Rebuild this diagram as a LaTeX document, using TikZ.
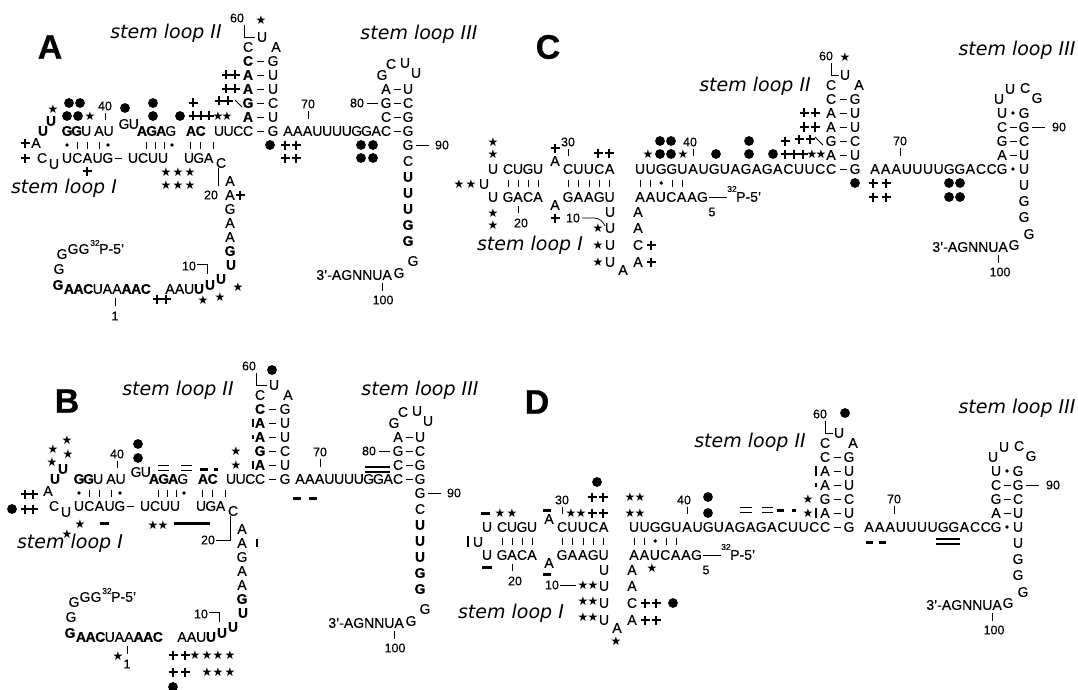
\documentclass[tikz,border=0pt]{standalone}
\usepackage{fontspec}
\setmainfont{Liberation Sans}[FakeBold=0.35,BoldFeatures={FakeBold=0.5}]
\newfontfamily\numf{Liberation Sans}[FakeBold=0.25]
\newfontfamily\symf{DejaVu Sans}
\newfontfamily\lblf{DejaVu Sans}
\tikzset{
 nt/.style={inner sep=0pt, font=\fontsize{14}{14}\selectfont},
 num/.style={inner sep=0pt, font=\numf\fontsize{12.5}{13}\selectfont},
 sup/.style={inner sep=0pt, font=\numf\fontsize{8.5}{9}\selectfont},
 starn/.style={inner sep=0pt, font=\symf\fontsize{12}{12}\selectfont},
 lbl/.style={inner sep=0pt, font=\lblf\itshape\fontsize{19}{21}\selectfont},
 panel/.style={inner sep=0pt, font=\bfseries\fontsize{34}{34}\selectfont},
 tk/.style={line width=0.6pt},
 ln/.style={line width=0.75pt},
}
\newcommand\Nt[3]{\node[nt] at (#1,#2) {#3};}
\newcommand\Nm[3]{\node[num] at (#1,#2) {#3};}
\newcommand\Seq[4]{\foreach \cc [count=\ii from 0] in {#4} {\node[nt] at ({#1+\ii*#3},#2) {\cc};}}
\newcommand\Pair[5]{\node[nt] at (#1,#3) {#4};\node[nt] at (#2,#3) {#5};\draw[ln] ({(#1+#2)/2-3.5},#3) -- ({(#1+#2)/2+3.5},#3);}
\newcommand\Wob[5]{\node[nt] at (#1,#3) {#4};\node[nt] at (#2,#3) {#5};\fill ({(#1+#2)/2},#3) circle (1.8pt);}
\newcommand\Tk[2]{\draw[tk] (#1,{#2-3.5}) -- (#1,{#2+3.5});}
\newcommand\Td[2]{\fill (#1,#2) circle (1.8pt);}
\newcommand\Md[2]{\fill (#1,#2) circle (4.9pt);}
\newcommand\Mp[2]{\draw[line width=2.8pt] ({#1-4.5},#2) -- ({#1+4.5},#2) (#1,{#2-4.5}) -- (#1,{#2+4.5});}
\newcommand\Ms[2]{\node[starn] at (#1,#2) {★};}
\newcommand\Mb[3]{\draw[line width=3pt] (#1,#3) -- (#2,#3);}
\newcommand\Mv[3]{\draw[line width=2.5pt] (#1,#2) -- (#1,#3);}
\newcommand\Meq[3]{\draw[line width=1.5pt] (#1,{#3-2.3}) -- (#2,{#3-2.3}) (#1,{#3+2.3}) -- (#2,{#3+2.3});}

\newcommand\StructAB{%
 \Nt{36}{143}{A}\Nt{42}{158}{C}\Nt{54}{164}{U}
 \Nt{43}{131}{\textbf{U}}\Nt{51}{121}{\textbf{U}}
 \Seq{67}{131}{9.6}{\textbf{G},\textbf{G},U}
 \Seq{99}{131}{9.6}{A,U}
 \Seq{124}{124}{9.8}{G,U}
 \Seq{142}{131}{9.6}{\textbf{A},\textbf{G},\textbf{A},G}
 \Seq{191}{131}{9.6}{\textbf{A},\textbf{C}}
 \Seq{219}{131}{9.6}{U,U,C}
 \Pair{248}{273}{131}{C}{G}
 \Seq{288}{131}{9.8}{A,A,A,U,U,U,U,G,G,A}
 \Pair{386}{408}{131}{C}{G}
 \Seq{67}{158}{10.2}{U,C,A,U,G}
 \draw[ln] (115,158) -- (122,158);
 \Seq{133}{158}{10}{U,C,U,U}
 \Seq{189}{158}{9.8}{U,G,A}
 \Nt{221}{163}{C}
 \Td{67}{145}\Tk{77}{145}\Tk{87}{145}\Tk{99}{145}\Td{108}{145}
 \Tk{146}{145}\Tk{155}{145}\Tk{164}{145}\Td{172}{145}
 \Tk{190}{145}\Tk{200}{145}\Tk{213}{145}
 \Nm{105}{106}{40}\draw[ln] (105,113) -- (105,120);
 \Nm{308}{104}{70}\draw[ln] (308,111) -- (308,119);
 \Pair{248}{273}{117}{\textbf{A}}{U}
 \Pair{248}{273}{103}{\textbf{G}}{C}
 \Pair{248}{273}{89}{\textbf{A}}{U}
 \Pair{248}{273}{75}{\textbf{A}}{U}
 \Pair{248}{273}{61}{\textbf{C}}{G}
 \Nt{248}{47}{C}\Nt{262}{37}{U}\Nt{276}{47}{A}
 \Nm{237}{18}{60}\draw[ln] (244,25) -- (244,37) -- (255,37);
 \Pair{386}{408}{117}{C}{G}
 \Pair{386}{408}{103}{G}{C}
 \Pair{386}{408}{89}{A}{U}
 \Nt{382}{75}{G}\Nt{391}{64}{C}\Nt{405}{63}{U}\Nt{416}{73}{U}
 \Nm{357}{103}{80}\draw[ln] (367,103) -- (378,103);
 \Nt{408}{145}{G}\draw[ln] (416,145) -- (429,145);\Nm{442}{145}{90}
 \Nt{408}{161}{C}
 \Nt{408}{177}{\textbf{U}}\Nt{408}{193}{\textbf{U}}\Nt{408}{209}{\textbf{U}}
 \Nt{408}{225}{\textbf{G}}\Nt{408}{241}{\textbf{G}}
 \Nt{413}{261}{G}\Nt{399}{273}{G}
 \node[nt,anchor=east] at (392,275) {3'-AGNNUA};
 \draw[ln] (382,283) -- (382,291);\Nm{383}{300}{100}
 \Nt{230}{181}{A}\Nt{230}{195}{A}\Nt{230}{209}{G}\Nt{230}{223}{A}\Nt{230}{237}{A}
 \Nt{230}{251}{\textbf{G}}\Nt{231}{265}{\textbf{U}}
 \Nt{221}{279}{\textbf{U}}\Nt{210}{285}{\textbf{U}}\Nt{199}{289}{\textbf{U}}
 \Seq{170}{289}{9.6}{A,A,U}
 \Seq{69}{289}{9.6}{\textbf{A},\textbf{A},\textbf{C},U,A,A,\textbf{A},\textbf{A},\textbf{C}}
 \Nt{58}{285}{\textbf{G}}
 \Nt{59}{269}{G}\Nt{62}{254}{G}\Nt{73}{249}{G}\Nt{84}{249}{G}
 \node[sup] at (95,243) {32};
 \node[nt,anchor=west] at (99,249) {P-5'};
 \Nm{189}{266}{10}\draw[ln] (197,264) -- (207,264) -- (207,274);
 \draw[ln] (115,298) -- (115,306);\Nm{115}{316}{1}
}

\newcommand\StructCD{%
 \Nt{484}{184}{U}
 \Nt{493}{169}{U}\Seq{508}{169}{10}{C,U,G,U}
 \Nt{555}{161}{A}\Seq{568}{169}{10.4}{C,U,U,C,A}
 \Seq{640}{169}{10.6}{U,U,G,G,U,A,U,G,U,A,G,A,G,A,C,U,U,C}
 \Pair{831}{855}{169}{C}{G}
 \Seq{875}{169}{10.6}{A,A,A,U,U,U,U,G,G,A,C,C}
 \Wob{1002}{1024}{169}{G}{U}
 \Nt{493}{197}{U}\Seq{508}{197}{10}{G,A,C,A}
 \Nt{555}{205}{A}\Seq{568}{197}{10.4}{G,A,A,G,U}
 \Nt{610}{212}{U}\Nt{610}{228}{U}\Nt{610}{245}{U}\Nt{610}{262}{U}
 \Nt{623}{270}{A}
 \Nt{638}{262}{A}\Nt{638}{245}{C}\Nt{638}{228}{A}\Nt{638}{212}{A}
 \Seq{640}{197}{10.4}{A,A,U,C,A,A,G}
 \draw[ln] (709,197) -- (727,197);
 \node[sup] at (732,189) {32};
 \node[nt,anchor=west] at (736,197) {P-5'};
 \Nm{712}{212}{5}
 \foreach \x in {508,518,528,538,568,578.4,588.8,599.2,609.6,640,650.6,671.8,682.4} {\Tk{\x}{183}}
 \Td{661.2}{183}
 \draw[ln] (518,206) -- (518,213);\Nm{521}{223}{20}
 \Nm{568}{142}{30}\draw[ln] (568,149) -- (568,156);
 \Nm{690}{142}{40}\draw[ln] (693,149) -- (693,156);
 \Nm{900}{141}{70}\draw[ln] (900,148) -- (900,156);
 \Pair{831}{855}{155}{A}{U}
 \Pair{831}{855}{141}{G}{C}
 \Pair{831}{855}{127}{A}{U}
 \Pair{831}{855}{113}{A}{U}
 \Pair{831}{855}{99}{C}{G}
 \Nt{831}{85}{C}\Nt{845}{75}{U}\Nt{859}{85}{A}
 \Nm{826}{56}{60}\draw[ln] (831,63) -- (831,75) -- (839,75);
 \Pair{1002}{1024}{155}{A}{U}
 \Pair{1002}{1024}{141}{G}{C}
 \Pair{1002}{1024}{127}{C}{G}
 \Wob{1002}{1024}{113}{U}{G}
 \Nt{999}{99}{U}\Nt{1010}{89}{U}\Nt{1025}{88}{C}\Nt{1037}{98}{G}
 \draw[ln] (1032,127) -- (1045,127);\Nm{1059}{127}{90}
 \Nt{1024}{185}{U}\Nt{1024}{201}{G}\Nt{1024}{217}{G}\Nt{1029}{234}{G}\Nt{1014}{245}{G}
 \node[nt,anchor=east] at (1008,247) {3'-AGNNUA};
 \draw[ln] (998,255) -- (998,263);\Nm{1000}{272}{100}
}

\begin{document}
\begin{tikzpicture}[x=1pt,y=-1pt]
\useasboundingbox (0,0) rectangle (1078,690);
\fill[white] (0,0) rectangle (1078,690);

% ---------- labels
\node[panel] (pA) at (50,47) {A};
\node[panel] (pB) at (67,401) {B};
\node[panel] (pC) at (548,47) {C};
\node[panel] (pD) at (537,402) {D};
\node[lbl] (a2) at (166,33) {stem loop II};
\node[lbl] (a3) at (419,34) {stem loop III};
\node[lbl] (a1) at (64,188) {stem loop I};
\node[lbl] (b2) at (178,390) {stem loop II};
\node[lbl] (b3) at (420,390) {stem loop III};
\node[lbl] (b1) at (70,543) {stem loop I};
\node[lbl] (c2) at (755,86) {stem loop II};
\node[lbl] (c3) at (1017,50) {stem loop III};
\node[lbl] (c1) at (530,245) {stem loop I};
\node[lbl] (d2) at (750,442) {stem loop II};
\node[lbl] (d3) at (1017,408) {stem loop III};
\node[lbl] (d1) at (511,613) {stem loop I};

% ---------- panel A
\StructAB
\draw[ln] (218,168) -- (218,186);\Nm{211}{195}{20}
\Mp{25}{143}\Mp{25}{158}
\Ms{53}{109}\Md{69}{103}\Md{80}{103}\Md{67}{116}\Md{78}{116}\Ms{90}{116}
\Md{125}{108}
\Md{153}{103}\Md{153}{116}
\Md{180}{116}\Mp{193}{103}\Mp{193}{116}\Mp{201}{116}\Mp{209}{116}\Ms{218}{116}\Ms{227}{116}
\Mp{226}{75}\Mp{235}{75}\Mp{226}{89}\Mp{235}{89}\Mp{219}{101}\Mp{228}{101}
\draw[line width=1pt] (235,100) -- (242,107);
\Ms{261}{20}
\Md{270}{145}\Mp{285}{145}\Mp{296}{145}\Mp{285}{158}\Mp{296}{158}
\Md{361}{145}\Md{373}{145}\Md{361}{158}\Md{373}{158}
\Mp{87}{171}
\Ms{166}{172}\Ms{178}{172}\Ms{190}{172}\Ms{166}{185}\Ms{178}{185}\Ms{190}{185}
\Mp{240}{195}
\Mp{157}{299}\Mp{166}{299}\Ms{203}{300}\Ms{220}{297}\Ms{238}{287}

% ---------- panel B
\begin{scope}[shift={(12,348)}]
\StructAB
\Nm{196}{192}{20}\draw[ln] (204,192) -- (218,192) -- (218,168);
\Ms{55}{92}\Ms{41}{101}\Ms{56}{106}\Ms{40}{114}
\Mp{13}{146}\Mp{21}{146}
\Md{0}{161}\Mp{13}{161}\Mp{21}{161}
\Md{126}{96}\Md{126}{110}
\Meq{146}{157}{120}\Meq{169}{180}{120}\Mb{188}{196}{121}\Mb{202}{205.5}{121}
\Ms{224}{103}\Ms{224}{117}
\Mv{241}{71}{79}\Mv{241}{87}{91}\Mv{241}{113}{121}
\Md{260}{22}
\Mb{281}{289}{150}\Mb{297}{305}{150}
\Meq{353}{378}{121.5}
\Ms{68}{176}\Ms{55}{186}\Mb{88}{97}{175}\Ms{141}{177}\Ms{151}{177}\Mb{162}{198}{175}
\Mv{245}{191}{199}
\Ms{106}{308}
\Mp{161}{307}\Mp{173}{307}\Ms{183}{307}\Ms{195}{307}\Ms{206}{307}\Ms{218}{307}
\Mp{161}{324}\Mp{173}{324}\Ms{195}{324}\Ms{206}{324}\Ms{218}{324}
\Md{161}{339}
\end{scope}

% ---------- panel C
\StructCD
\Nm{573}{218}{10}\draw[ln] (582,218) -- (594,218) .. controls (600,218) and (603,222) .. (605,226);
\Ms{493}{142}\Ms{493}{154}
\Ms{459}{184}\Ms{471}{184}
\Ms{493}{213}\Ms{493}{225}
\Mp{555}{148}\Mp{555}{218}
\Mp{598}{153}\Mp{609}{153}
\Ms{598}{228}\Ms{598}{245}\Ms{598}{262}
\Mp{651}{245}\Mp{651}{262}
\Md{660}{141}\Md{671}{141}\Ms{648}{154}\Md{660}{154}\Md{671}{154}\Ms{683}{154}
\Md{716}{154}
\Md{749}{141}\Md{749}{154}
\Mp{785}{141}\Md{773}{154}\Mp{785}{154}\Mp{794}{154}\Mp{803}{154}\Ms{812}{154}\Ms{821}{154}
\Mp{804}{113}\Mp{815}{113}\Mp{804}{127}\Mp{815}{127}\Mp{799}{139}\Mp{810}{139}
\draw[line width=1pt] (815,137) -- (823,145);
\Ms{845}{57}
\Md{855}{183}\Mp{873}{183}\Mp{886}{183}\Mp{873}{197}\Mp{886}{197}
\Md{949}{183}\Md{960}{183}\Md{949}{197}\Md{960}{197}

% ---------- panel D
\begin{scope}[shift={(-6,358)}]
\StructCD
\Nm{558}{227}{10}\draw[ln] (566,227) -- (582,227);
\Mb{487}{496}{155}\Ms{506}{155}\Ms{518}{155}
\Mv{474}{178}{189}
\Mb{488}{498}{209}
\Mb{549}{557}{152}\Mb{549}{557}{216}
\Ms{577}{155}\Ms{587}{155}\Mp{598}{155}\Mp{609}{155}
\Md{603}{124}\Mp{598}{139}\Mp{609}{139}
\Ms{636}{139}\Ms{646}{139}\Ms{636}{155}\Ms{646}{155}
\Md{714}{139}\Md{714}{155}
\Meq{746}{758}{152}\Meq{768}{779}{152}\Mb{783}{790}{152}\Mb{798}{801.5}{152}
\Ms{814}{141}\Ms{814}{155}
\Mv{822}{108}{118}\Mv{822}{125}{129}\Mv{822}{150}{160}
\Md{851}{55}
\Mb{872}{879}{184}\Mb{885}{892}{184}
\Meq{942}{966}{183.5}
\Ms{589}{227}\Ms{599}{227}\Ms{589}{243}\Ms{599}{243}\Ms{589}{259}\Ms{599}{259}
\Ms{658}{210}
\Mp{651}{245}\Mp{662}{245}\Md{679}{245}
\Mp{651}{262}\Mp{662}{262}
\Ms{622}{283}
\end{scope}
\end{tikzpicture}
\end{document}
